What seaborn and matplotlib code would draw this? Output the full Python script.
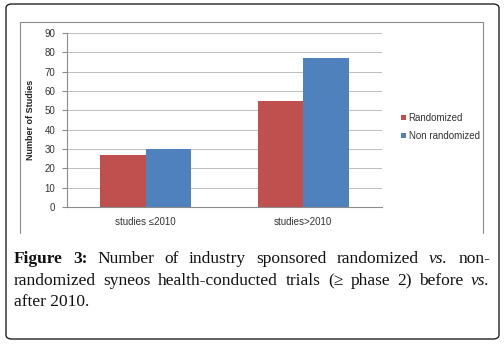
import matplotlib
matplotlib.use('Agg')
import matplotlib.pyplot as plt
import pandas as pd
import seaborn as sns
from matplotlib.patches import FancyBboxPatch
from matplotlib.lines import Line2D

# data
periods = ['studies \u22642010', 'studies>2010']
randomized = [27, 55]
non_randomized = [30, 77]
series_names = ['Randomized', 'Non randomized']
colors = ['#C0504D', '#4F81BD']

df = pd.DataFrame({
    'period': periods * 2,
    'group': [series_names[0]] * 2 + [series_names[1]] * 2,
    'count': randomized + non_randomized,
})

W, H = 504, 344
sns.set_style('white')
plt.rcParams['font.family'] = ['Liberation Sans', 'DejaVu Sans']

fig = plt.figure(figsize=(W / 100, H / 100), dpi=100)

def fx(px):
    return px / W

def fy(py):
    return 1 - py / H

# outer rounded frame
box = FancyBboxPatch((fx(6), fy(339)), fx(493), 335 / H,
                     boxstyle='round,pad=0,rounding_size=0.012',
                     transform=fig.transFigure, facecolor='none',
                     edgecolor='#222222', linewidth=1.0)
fig.patches.append(box)

# inner chart border (left, top, right)
gray = '#8c8c8c'
grid_gray = '#bdbdbd'
for xs, ys in [([20, 20], [22, 233]), ([20, 483], [22, 22]), ([483, 483], [22, 233])]:
    fig.add_artist(Line2D([fx(x) for x in xs], [fy(y) for y in ys],
                          transform=fig.transFigure, color=gray, lw=0.8))

ax = fig.add_axes([fx(67), fy(207), fx(382 - 67), (207 - 33) / H])
sns.barplot(data=df, x='period', y='count', hue='group', palette=colors,
            width=0.58, ax=ax, saturation=1, legend=True, linewidth=0)

ax.set_ylim(0, 90)
ax.set_yticks(range(0, 91, 10))
ax.yaxis.grid(True, color=grid_gray, lw=0.7)
ax.set_axisbelow(True)
for s in ['top', 'right']:
    ax.spines[s].set_visible(False)
for s in ['left', 'bottom']:
    ax.spines[s].set_color(gray)
    ax.spines[s].set_linewidth(0.8)
ax.tick_params(axis='y', length=3.5, color=gray, labelsize=7, pad=5,
               left=True, labelcolor='#333333')
ax.tick_params(axis='x', length=0, labelsize=7, pad=7, labelcolor='#333333')
ax.set_xlabel('')
ax.set_ylabel('Number of Studies', fontsize=6.5, fontweight='bold',
              labelpad=7, color='#222222')

handles, labels = ax.get_legend_handles_labels()
ax.get_legend().remove()
fig.legend(handles, labels, loc='center left',
           bbox_to_anchor=(fx(392), fy(127)), frameon=False, fontsize=7,
           handlelength=0.5, handleheight=0.5, handletextpad=0.3,
           labelspacing=0.85, labelcolor='#333333')

# caption, justified
serif = ['Liberation Serif', 'DejaVu Serif']
fs = 12.5
renderer = fig.canvas.get_renderer()

def justify(words, ypx, x0, x1):
    texts = []
    for w, style in words:
        kw = {}
        if style == 'b':
            kw['fontweight'] = 'bold'
        if style == 'i':
            kw['fontstyle'] = 'italic'
        t = fig.text(0, fy(ypx), w, fontsize=fs, family=serif,
                     color='#111111', va='baseline', **kw)
        texts.append(t)
    widths = [t.get_window_extent(renderer).width for t in texts]
    gap = (x1 - x0 - sum(widths)) / (len(texts) - 1)
    x = x0
    for t, wd in zip(texts, widths):
        t.set_x(fx(x))
        x += wd + gap

line1 = [('Figure', 'b'), ('3:', 'b'), ('Number', ''), ('of', ''),
         ('industry', ''), ('sponsored', ''), ('randomized', ''),
         ('vs.', 'i'), ('non-', '')]
line2 = [('randomized', ''), ('syneos', ''), ('health-conducted', ''),
         ('trials', ''), ('(\u2265', ''), ('phase', ''), ('2)', ''),
         ('before', ''), ('vs.', 'i')]
justify(line1, 263, 14, 490)
justify(line2, 285, 14, 490)
fig.text(fx(14), fy(306), 'after 2010.', fontsize=fs, family=serif,
         color='#111111', va='baseline')

fig.savefig('out.png', dpi=100)
